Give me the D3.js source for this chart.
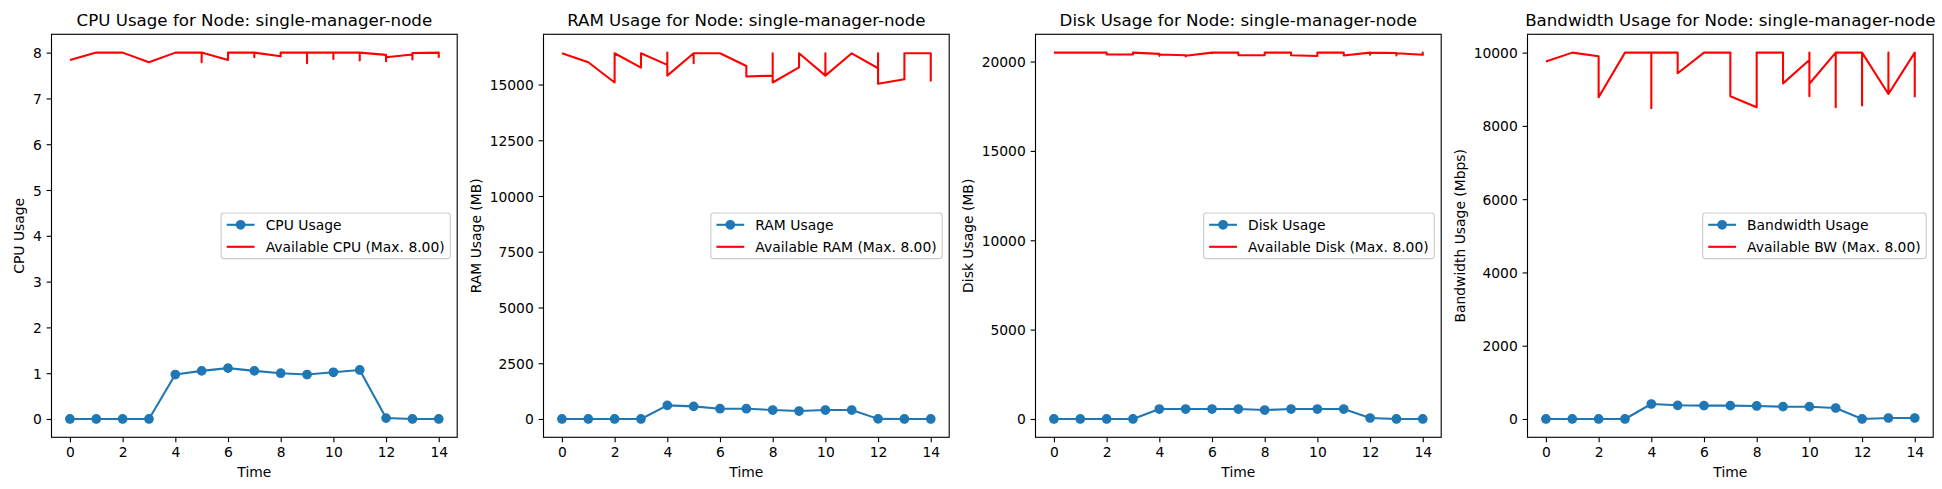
<!DOCTYPE html>
<html><head><meta charset="utf-8">
<script src="https://cdn.jsdelivr.net/npm/d3@7/dist/d3.min.js"></script>
<style>
html,body{margin:0;padding:0;background:#fff;}
svg{display:block;font-family:"DejaVu Sans",sans-serif;}
</style></head><body>
<svg id="chart" width="1942" height="489"></svg>
<script>
// ---------------- data ----------------
const timeSteps = [0,1,2,3,4,5,6,7,8,9,10,11,12,13,14];
const xTickValues = [0,2,4,6,8,10,12,14];

const cpuUsage = [0,0,0,0,0.97,1.05,1.11,1.05,1.0,0.97,1.02,1.07,0.02,0,0];
const cpuAvailTime   = [0,1,2,3,4,5,5,5,6,6,7,7,7,8,8,9,9,9,10,10,10,11,11,11,12,12,12,13,13,13,14,14];
const cpuAvailValues = [7.84,8.0,8.0,7.79,8.0,8.0,7.79,8.0,7.84,8.0,8.0,7.9,8.0,7.92,8.0,8.0,7.77,8.0,8.0,7.86,8.0,8.0,7.83,8.0,7.95,7.81,7.9,7.96,7.85,7.99,8.0,7.89];

const ramUsage = [0,0,0,0,610,565,461,461,402,357,402,402,5,0,0];
const ramAvailTime   = [0,1,2,2,3,3,4,4,4,5,5,5,6,7,7,8,8,8,9,9,10,10,10,11,12,12,12,13,13,14,14];
const ramAvailValues = [16400,16000,15090,16400,15760,16400,15880,16430,15400,16400,15950,16400,16400,15830,15360,15400,16400,15090,15770,16400,15400,16400,15400,16400,15730,16400,15030,15240,16400,16400,15130];

const diskUsage = [0,0,0,0,555,555,555,555,500,555,555,555,55,0,0];
const diskAvailTime   = [0,1,2,2,3,3,4,4,4,5,5,5,6,6,6,7,7,8,8,9,9,10,10,11,11,12,12,12,13,13,13,14,14,14];
const diskAvailValues = [20500,20500,20500,20390,20390,20500,20430,20320,20390,20350,20280,20320,20500,20460,20500,20500,20350,20350,20500,20500,20350,20310,20500,20500,20340,20500,20380,20500,20480,20340,20460,20380,20500,20320];

const bwUsage = [0,0,0,0,409,373,364,364,355,336,336,300,0,27,27];
const bwAvailTime   = [0,1,2,2,3,4,4,4,5,5,6,7,7,8,8,8,8,9,9,10,10,10,10,11,11,11,12,12,12,13,13,13,14,14];
const bwAvailValues = [9755,10000,9900,8780,10000,10000,8480,10000,10000,9436,10000,10000,8810,8510,10000,9650,10000,10000,9160,9800,10000,8810,9150,10000,8510,10000,10000,8555,10000,8870,10000,8870,10000,8780];

const cpuTicks  = [0,1,2,3,4,5,6,7,8];
const ramTicks  = [0,2500,5000,7500,10000,12500,15000];
const diskTicks = [0,5000,10000,15000,20000];
const bwTicks   = [0,2000,4000,6000,8000,10000];

const titles = ["CPU Usage for Node: single-manager-node","RAM Usage for Node: single-manager-node","Disk Usage for Node: single-manager-node","Bandwidth Usage for Node: single-manager-node"];
const yLabels = ["CPU Usage","RAM Usage (MB)","Disk Usage (MB)","Bandwidth Usage (Mbps)"];
const usageLabels = ["CPU Usage","RAM Usage","Disk Usage","Bandwidth Usage"];
const availLabels = ["Available CPU (Max. 8.00)","Available RAM (Max. 8.00)","Available Disk (Max. 8.00)","Available BW (Max. 8.00)"];
const xLabel = "Time";

// ---------------- layout ----------------
const panels = [
  {usage: cpuUsage,  at: cpuAvailTime,  av: cpuAvailValues,  ticks: cpuTicks},
  {usage: ramUsage,  at: ramAvailTime,  av: ramAvailValues,  ticks: ramTicks},
  {usage: diskUsage, at: diskAvailTime, av: diskAvailValues, ticks: diskTicks},
  {usage: bwUsage,   at: bwAvailTime,   av: bwAvailValues,   ticks: bwTicks}
];
const lefts = [51.5, 543.5, 1035.5, 1527.5];
const axW = 405.7, axTop = 34.3, axBottom = 437.3;
const tickFs = 13.89, titleFs = 16.67;
const BLUE = "#1f77b4", RED = "#ff0000";

const svg = d3.select("#chart");

function pad(ext){ const d = ext[1]-ext[0]; return [ext[0]-0.05*d, ext[1]+0.05*d]; }

panels.forEach((p, i) => {
  const left = lefts[i], right = left + axW;
  const x = d3.scaleLinear().domain(pad(d3.extent(timeSteps.concat(p.at)))).range([left, right]);
  const y = d3.scaleLinear().domain(pad(d3.extent(p.usage.concat(p.av)))).range([axBottom, axTop]);
  const g = svg.append("g");

  const line = d3.line().x(d => x(d[0])).y(d => y(d[1]));
  const usagePts = timeSteps.map((t, k) => [t, p.usage[k]]);
  g.append("path").attr("d", line(usagePts)).attr("fill","none").attr("stroke",BLUE)
    .attr("stroke-width",2.08).attr("stroke-linejoin","round").attr("stroke-linecap","butt");
  g.selectAll("circle.m").data(usagePts).join("circle").attr("class","m")
    .attr("cx", d => x(d[0])).attr("cy", d => y(d[1])).attr("r", 4.17)
    .attr("fill", BLUE).attr("stroke", BLUE).attr("stroke-width", 1.39);

  const availPts = p.at.map((t, k) => [t, p.av[k]]);
  g.append("path").attr("d", line(availPts)).attr("fill","none").attr("stroke",RED)
    .attr("stroke-width",2.08).attr("stroke-linejoin","round").attr("stroke-linecap","butt");

  g.append("rect").attr("x", left).attr("y", axTop).attr("width", axW).attr("height", axBottom-axTop)
    .attr("fill","none").attr("stroke","#000").attr("stroke-width",1.11);

  const xa = g.append("g").attr("transform", `translate(0,${axBottom})`)
    .call(d3.axisBottom(x).tickValues(xTickValues).tickSize(4.86).tickPadding(4.86).tickFormat(d3.format("d")));
  xa.select(".domain").remove();
  xa.selectAll("line").attr("stroke","#000").attr("stroke-width",1.11);
  xa.selectAll("text").attr("font-size", tickFs).attr("fill","#000").attr("font-family","DejaVu Sans")
    .attr("y", 9.72).attr("dy","0.73em");

  const ya = g.append("g").attr("transform", `translate(${left},0)`)
    .call(d3.axisLeft(y).tickValues(p.ticks).tickSize(4.86).tickPadding(4.86).tickFormat(d3.format("d")));
  ya.select(".domain").remove();
  ya.selectAll("line").attr("stroke","#000").attr("stroke-width",1.11);
  ya.selectAll("text").attr("font-size", tickFs).attr("fill","#000").attr("font-family","DejaVu Sans")
    .attr("dy","0.36em");
  let maxW = 0;
  ya.selectAll("text").each(function(){ maxW = Math.max(maxW, this.getComputedTextLength()); });

  g.append("text").attr("x", (left+right)/2).attr("y", 477.2).attr("text-anchor","middle")
    .attr("font-size", tickFs).text(xLabel);
  const ylx = left - 9.72 - maxW - 5.56 - 3.28;
  g.append("text").attr("transform", `translate(${ylx},${(axTop+axBottom)/2}) rotate(-90)`)
    .attr("text-anchor","middle").attr("font-size", tickFs).text(yLabels[i]);
  g.append("text").attr("x", (left+right)/2).attr("y", axTop - 8.33).attr("text-anchor","middle")
    .attr("font-size", titleFs).text(titles[i]);

  const lg = g.append("g");
  const t1 = lg.append("text").attr("font-size", tickFs).text(usageLabels[i]);
  const t2 = lg.append("text").attr("font-size", tickFs).text(availLabels[i]);
  const tw = Math.max(t1.node().getComputedTextLength(), t2.node().getComputedTextLength());
  const bw = 5.56 + 27.78 + 11.11 + tw + 5.56;
  const bh = 45.7;
  const cy = (axTop+axBottom)/2;
  const bx = right - 6.94 - bw, by = cy - bh/2;
  lg.insert("rect", "text").attr("x", bx).attr("y", by).attr("width", bw).attr("height", bh)
    .attr("rx", 2.78).attr("ry", 2.78).attr("fill","#fff").attr("fill-opacity",0.8)
    .attr("stroke","#cccccc").attr("stroke-width",1.11);
  const hx0 = bx + 5.56, hx1 = hx0 + 27.78, tx = hx1 + 11.11;
  const r1 = cy - 11, r2 = cy + 11;
  lg.insert("line","text").attr("x1",hx0).attr("x2",hx1).attr("y1",r1).attr("y2",r1).attr("stroke",BLUE).attr("stroke-width",2.08);
  lg.insert("circle","text").attr("cx",(hx0+hx1)/2).attr("cy",r1).attr("r",4.17).attr("fill",BLUE).attr("stroke",BLUE).attr("stroke-width",1.39);
  lg.insert("line","text").attr("x1",hx0).attr("x2",hx1).attr("y1",r2).attr("y2",r2).attr("stroke",RED).attr("stroke-width",2.08);
  t1.attr("x", tx).attr("y", r1 + 5.06);
  t2.attr("x", tx).attr("y", r2 + 5.06);
});
</script>
</body></html>
